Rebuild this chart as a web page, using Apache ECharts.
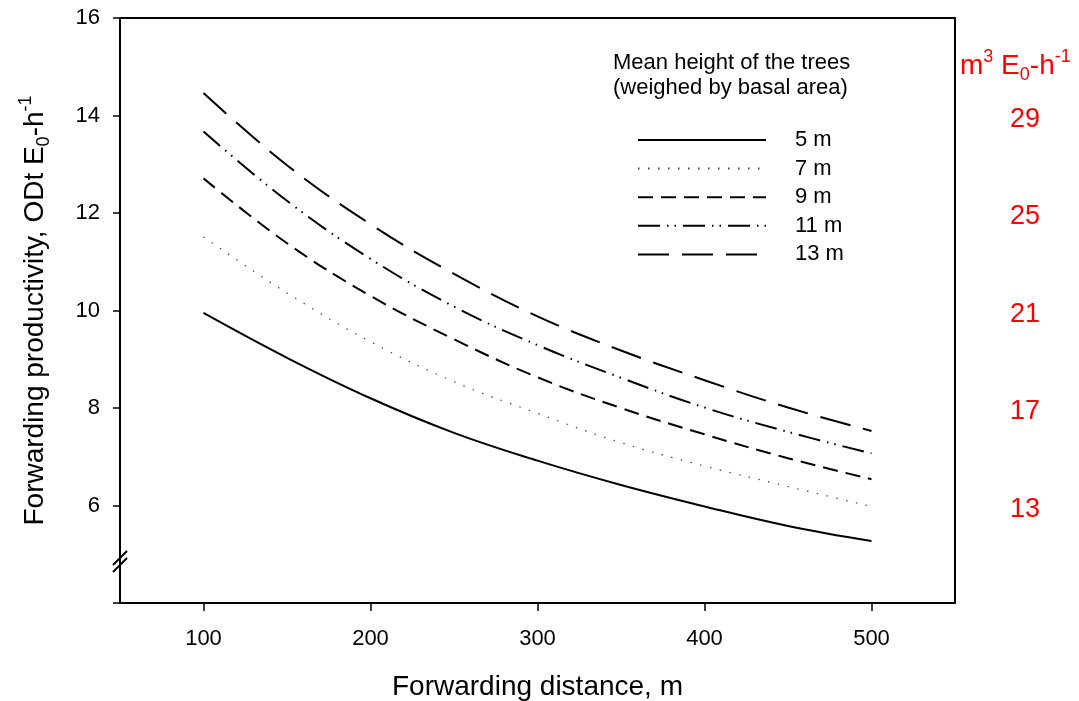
<!DOCTYPE html>
<html>
<head>
<meta charset="utf-8">
<script src="https://cdn.jsdelivr.net/npm/echarts@6/dist/echarts.min.js"></script>
<style>
  html, body { margin: 0; padding: 0; background: #fff; }
  #chart { width: 1079px; height: 701px; }
</style>
</head>
<body>
<div id="chart"></div>
<script>
// Forwarding distance (m) at which productivity was evaluated
const distances = [100, 150, 200, 250, 300, 350, 400, 450, 500];

// Mean tree height classes (weighed by basal area)
const heightLabels = ['5 m', '7 m', '9 m', '11 m', '13 m'];

// Forwarding productivity, ODt per E0-hour, one array per height class
const prod5m  = [9.95, 9.03, 8.20, 7.49, 6.92, 6.42, 5.98, 5.58, 5.27];
const prod7m  = [11.51, 10.36, 9.36, 8.54, 7.89, 7.29, 6.81, 6.39, 5.98];
const prod9m  = [12.71, 11.38, 10.30, 9.41, 8.63, 8.00, 7.46, 6.97, 6.54];
const prod11m = [13.67, 12.25, 11.06, 10.08, 9.29, 8.62, 8.01, 7.51, 7.07];
const prod13m = [14.46, 12.98, 11.77, 10.75, 9.88, 9.18, 8.57, 8.01, 7.53];

// Tick labels
const xTickValues = [100, 200, 300, 400, 500];
const volumeTickValues = [13, 17, 21, 25, 29];   // m3 per E0-hour (right scale)

// Where the broken-axis marker sits on the left axis
const axisBreakPoint = [50, 4.85];

const FONT = "'Liberation Sans', Arial, Helvetica, sans-serif";

const lineStyles = [
  { color: '#000', width: 2, type: 'solid' },
  { color: '#444', width: 1.2, type: [1.5, 8.5] },
  { color: '#000', width: 2, type: [15, 8] },
  { color: '#000', width: 2, type: [22, 7, 1.5, 6, 1.5, 7] },
  { color: '#000', width: 2, type: [31, 13] }
];
const seriesValues = [prod5m, prod7m, prod9m, prod11m, prod13m];

const lineSeries = heightLabels.map((name, k) => ({
  name,
  type: 'line',
  smooth: 0.4,
  symbol: 'none',
  silent: true,
  lineStyle: lineStyles[k],
  itemStyle: { color: lineStyles[k].color },
  data: distances.map((d, i) => [d, seriesValues[k][i]])
}));

// Two short parallel slashes across the left axis
const breakSeries = {
  type: 'custom',
  silent: true,
  clip: false,
  z: 20,
  data: [axisBreakPoint],
  renderItem(params, api) {
    const p = api.coord([api.value(0), api.value(1)]);
    const slash = dy => ({
      type: 'line',
      shape: { x1: p[0] - 7, y1: p[1] + dy + 7, x2: p[0] + 7, y2: p[1] + dy - 7 },
      style: { stroke: '#000', lineWidth: 2 }
    });
    return { type: 'group', children: [slash(-3.5), slash(3.5)] };
  }
};

const richUnits = (color) => ({
  a:   { fontSize: 28, fontFamily: FONT, fontWeight: 'normal', color, lineHeight: 36, verticalAlign: 'middle' },
  sub: { fontSize: 18, fontFamily: FONT, fontWeight: 'normal', color, lineHeight: 18, verticalAlign: 'bottom' },
  sup: { fontSize: 18, fontFamily: FONT, fontWeight: 'normal', color, lineHeight: 18, verticalAlign: 'top' }
});

const option = {
  animation: false,
  backgroundColor: '#fff',
  title: [
    {
      text: 'Mean height of the trees\n(weighed by basal area)',
      left: 608,
      top: 45,
      textStyle: { fontSize: 22, fontWeight: 'normal', color: '#000', fontFamily: FONT, lineHeight: 25 }
    },
    {
      text: '{a|m}{sup|3}{a| E}{sub|0}{a|-h}{sup|-1}',
      left: 955,
      top: 43,
      textStyle: { fontWeight: 'normal', rich: richUnits('#ff0000') }
    }
  ],
  legend: {
    data: heightLabels,
    orient: 'vertical',
    left: 632,
    top: 124,
    itemWidth: 128,
    itemHeight: 20,
    itemGap: 6.6,
    itemStyle: { opacity: 0 },
    textStyle: { fontSize: 22, color: '#000', fontFamily: FONT, lineHeight: 20, padding: [0, 0, 0, 24] },
    selectedMode: false
  },
  grid: {
    left: 120,
    right: 124,
    top: 18,
    bottom: 98,
    show: true,
    borderColor: '#000',
    borderWidth: 2,
    containLabel: false,
    outerBoundsMode: 'none'
  },
  xAxis: {
    type: 'value',
    min: 50,
    max: 550,
    name: 'Forwarding distance, m',
    nameLocation: 'middle',
    nameGap: 70,
    nameTextStyle: { fontSize: 28, color: '#000', fontFamily: FONT },
    axisLine: { show: true, onZero: false, lineStyle: { color: '#000', width: 2 } },
    axisTick: { show: true, customValues: xTickValues, length: 8, lineStyle: { color: '#000', width: 1.5 } },
    axisLabel: { customValues: xTickValues, fontSize: 22, color: '#000', fontFamily: FONT, margin: 25 },
    splitLine: { show: false }
  },
  yAxis: [
    {
      type: 'value',
      position: 'left',
      min: 4,
      max: 16,
      interval: 2,
      name: '{a|Forwarding productivity, ODt E}{sub|0}{a|-h}{sup|-1}',
      nameLocation: 'middle',
      nameRotate: 90,
      nameGap: 67,
      nameTextStyle: { rich: richUnits('#000') },
      axisLine: { show: true, onZero: false, lineStyle: { color: '#000', width: 2 } },
      axisTick: { show: true, length: 7, lineStyle: { color: '#000', width: 1.5 } },
      axisLabel: {
        fontSize: 22, color: '#000', fontFamily: FONT, margin: 20,
        formatter: v => (v === 4 ? '' : String(v))
      },
      splitLine: { show: false }
    },
    {
      type: 'value',
      position: 'right',
      min: 9.15,
      max: 33.15,
      axisLine: { show: false },
      axisTick: { show: false },
      axisLabel: { customValues: volumeTickValues, fontSize: 27, color: '#ff0000', fontFamily: FONT, margin: 55 },
      splitLine: { show: false }
    }
  ],
  series: [...lineSeries, breakSeries]
};

const chart = echarts.init(document.getElementById('chart'), null, { renderer: 'canvas' });
chart.setOption(option);
</script>
</body>
</html>
